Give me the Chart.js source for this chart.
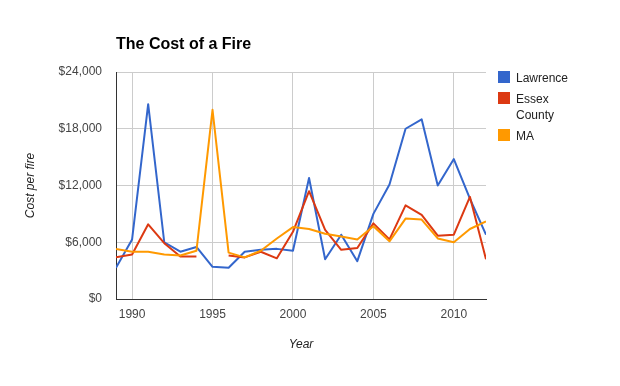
<!DOCTYPE html>
<html>
<head>
<meta charset="utf-8">
<script src="https://cdn.jsdelivr.net/npm/chart.js@4"></script>
<style>
  body { margin: 0; background: #fff; font-family: Arial, "Liberation Sans", sans-serif; }
  #wrap { position: relative; width: 620px; height: 386px; }
  #title { position: absolute; left: 116px; top: 35px; font-size: 16px; font-weight: bold; color: #000; }
  #legend { position: absolute; left: 498px; top: 70px; font-size: 12px; color: #222; }
  .item { position: relative; padding-left: 18px; margin-bottom: 5px; width: 62px; line-height: 16px; }
  .sw { position: absolute; left: 0; top: 1px; width: 12px; height: 12px; }
</style>
</head>
<body>
<div id="wrap">
  <canvas id="fireChart" width="620" height="386"></canvas>
  <div id="title">The Cost of a Fire</div>
  <div id="legend"></div>
</div>
<script>
// --- data ---
const years = [1989, 1990, 1991, 1992, 1993, 1994, 1995, 1996, 1997, 1998, 1999, 2000,
               2001, 2002, 2003, 2004, 2005, 2006, 2007, 2008, 2009, 2010, 2011, 2012];
const lawrence = [3300, 6300, 20600, 6000, 5000, 5500, 3400, 3300, 5000, 5200, 5300, 5100,
                  12800, 4200, 6800, 4000, 9000, 12100, 18000, 19000, 12000, 14800, 10600, 6800];
const essex = [4400, 4700, 7900, 5900, 4500, 4500, null, 4600, 4400, 5000, 4300, 7100,
               11400, 7300, 5200, 5400, 8000, 6300, 9900, 8900, 6700, 6800, 10800, 4200];
const ma = [5300, 5000, 5000, 4700, 4600, 5100, 20000, 4900, 4400, 5100, 6400, 7600,
            7400, 6900, 6600, 6300, 7700, 6100, 8500, 8400, 6400, 6000, 7400, 8200];
const yearTicks = [1990, 1995, 2000, 2005, 2010];
const costTicks = [0, 6000, 12000, 18000, 24000];

const seriesNames = ['Lawrence', 'Essex County', 'MA'];
const seriesColors = ['#3366cc', '#dc3912', '#ff9900'];
const seriesValues = [lawrence, essex, ma];

const toPoints = vals => years.map((yr, i) => ({ x: yr, y: vals[i] }));

// legend (html, like the google one)
const legendEl = document.getElementById('legend');
seriesNames.forEach((name, i) => {
    const item = document.createElement('div');
    item.className = 'item';
    item.innerHTML = '<span class="sw" style="background:' + seriesColors[i] + '"></span>' + name;
    legendEl.appendChild(item);
});

const tickFont = { family: 'Arial, "Liberation Sans", sans-serif', size: 12 };
const titleFont = { family: 'Arial, "Liberation Sans", sans-serif', size: 12, style: 'italic' };

new Chart(document.getElementById('fireChart'), {
    type: 'line',
    data: {
        datasets: seriesNames.map((name, i) => ({
            label: name,
            data: toPoints(seriesValues[i]),
            borderColor: seriesColors[i],
            backgroundColor: seriesColors[i],
            borderWidth: 2,
            borderJoinStyle: 'round',
            pointRadius: 0,
            tension: 0,
            spanGaps: false,
            order: 3 - i
        }))
    },
    options: {
        responsive: false,
        animation: false,
        layout: { padding: { top: 72, right: 134, bottom: 0, left: 0 } },
        plugins: {
            legend: { display: false },
            tooltip: { enabled: false }
        },
        scales: {
            x: {
                type: 'linear',
                min: 1989,
                max: 2012,
                afterBuildTicks: scale => { scale.ticks = yearTicks.map(v => ({ value: v })); },
                afterFit: scale => { scale.height = 87; },
                ticks: {
                    color: '#444',
                    font: tickFont,
                    padding: 8,
                    maxRotation: 0,
                    callback: v => String(v)
                },
                grid: { color: '#cccccc', drawTicks: false },
                border: { color: '#333333', width: 1 },
                title: {
                    display: true,
                    text: 'Year',
                    color: '#222',
                    font: titleFont,
                    padding: { top: 0, bottom: 34 }
                }
            },
            y: {
                min: 0,
                max: 24000,
                afterBuildTicks: scale => { scale.ticks = costTicks.map(v => ({ value: v })); },
                afterFit: scale => { scale.width = 116; },
                ticks: {
                    color: '#444',
                    font: tickFont,
                    padding: 14,
                    callback: v => '$' + v.toLocaleString('en-US')
                },
                grid: {
                    color: c => (c.tick && c.tick.value === 0) ? '#333333' : '#cccccc',
                    drawTicks: false
                },
                border: { color: '#333333', width: 1 },
                title: {
                    display: true,
                    text: 'Cost per fire',
                    color: '#222',
                    font: titleFont,
                    padding: { top: 23, bottom: 0 }
                }
            }
        }
    }
});
</script>
</body>
</html>
